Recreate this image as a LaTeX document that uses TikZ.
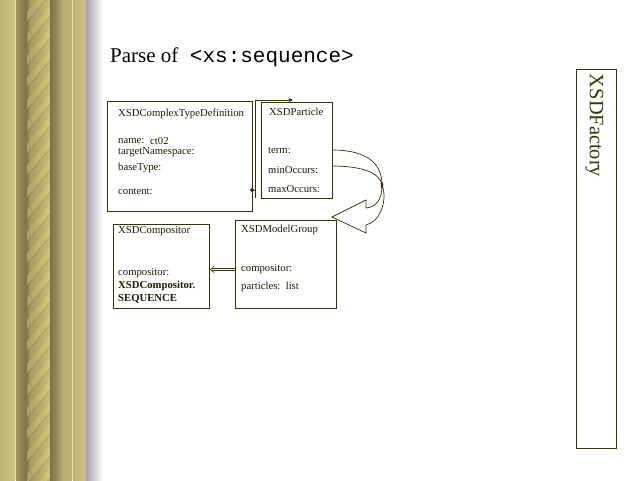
\documentclass[tikz,border=0pt]{standalone}
\usepackage{fontspec}
\setmainfont{Liberation Serif}
\setmonofont{Liberation Mono}
\usetikzlibrary{arrows.meta}

\definecolor{boxline}{HTML}{3A3100}
\definecolor{boxtext}{HTML}{1E1A04}
\definecolor{factorytext}{HTML}{383508}
\definecolor{khaki}{HTML}{BDB374}
\definecolor{khakilight}{HTML}{CCC282}
\definecolor{olivedark}{HTML}{7E7547}
\definecolor{olivemid}{HTML}{978D57}
\definecolor{glint}{HTML}{EADF94}
\definecolor{ropebase}{HTML}{A69C62}
\definecolor{ropehi}{HTML}{D6CA7E}

\tikzset{
  umlbox/.style={draw=boxline, line width=0.9pt, inner sep=0pt},
  lbl/.style={text=boxtext, inner sep=0pt, anchor=base west,
              font=\fontsize{10.7}{12}\selectfont},
  lblbold/.style={lbl, font=\fontsize{10.7}{12}\selectfont\bfseries},
  wire/.style={draw=boxline, line width=0.7pt},
}

\begin{document}
\begin{tikzpicture}[x=1pt,y=-1pt]
\useasboundingbox (0,0) rectangle (640,480);
\fill[white] (0,0) rectangle (640,480);

% ---- decorative gilded column on the left ----
\shade[left color=khaki, right color=khakilight] (0,0) rectangle (15,480);
\fill[glint] (15,0) rectangle (16,480);
\shade[left color=olivemid!80!khaki, right color=olivedark] (16,0) rectangle (26,480);
\shade[left color=olivedark, right color=ropebase] (26,0) rectangle (30,480);
\shade[left color=ropebase, right color=ropehi!70!ropebase] (30,0) rectangle (50,480);
\begin{scope}
  \clip (27,0) rectangle (50,480);
  \foreach \y in {-60,-38,...,520}{
    \shade[left color=ropebase!80!ropehi, right color=ropehi, opacity=0.85]
      (27,\y+28) -- (50,\y) -- (50,\y+9) -- (27,\y+37) -- cycle;
    \fill[olivedark, opacity=0.15]
      (27,\y+37) -- (50,\y+9) -- (50,\y+12) -- (27,\y+40) -- cycle;
  }
\end{scope}
\shade[left color=olivemid!80!black, right color=olivemid] (50,0) rectangle (57,480);
\shade[left color=olivemid, right color=khaki!90!olivemid] (57,0) rectangle (63,480);
\shade[left color=khaki!90!olivemid, right color=khaki] (63,0) rectangle (72,480);
\fill[glint] (72,0) rectangle (73,480);
\shade[left color=khaki, right color=khakilight] (73,0) rectangle (86,480);
\shade[left color={rgb,255:red,164;green,161;blue,174}, right color=white]
  (86,0) rectangle (103,480);

% ---- title ----
\node[anchor=base west, inner sep=0pt, font=\fontsize{21}{24}\selectfont] (title)
  at (110,62) {Parse of\hspace{0.55em}\texttt{<xs:sequence>}};

% ---- XSDComplexTypeDefinition ----
\node[umlbox, anchor=north west, minimum width=145pt, minimum height=110pt] (ctd) at (107,101) {};
\node[lbl] (ctdT) at (118,116) {XSDComplexTypeDefinition};
\node[lbl] (ctdName) at (118,143) {name:};
\node[lbl] (ctdNameV) at (150,144.5) {ct02};
\node[lbl] (ctdNs) at (118,154.5) {targetNamespace:};
\node[lbl] (ctdBase) at (118,170) {baseType:};
\node[lbl] (ctdContent) at (118,194) {content:};

% ---- XSDParticle ----
\node[umlbox, anchor=north west, minimum width=71pt, minimum height=96pt] (part) at (261,102) {};
\node[lbl] (partT) at (269,115) {XSDParticle};
\node[lbl] (partTerm) at (268,153) {term:};
\node[lbl] (partMin) at (268,173) {minOccurs:};
\node[lbl] (partMax) at (268,192) {maxOccurs:};

% ---- XSDCompositor ----
\node[umlbox, anchor=north west, minimum width=96pt, minimum height=84pt] (comp) at (113,224) {};
\node[lbl] (compT) at (118,233) {XSDCompositor};
\node[lbl] (compC) at (118,275) {compositor:};
\node[lblbold] (compV1) at (118,288) {XSDCompositor.};
\node[lblbold] (compV2) at (118,301) {SEQUENCE};

% ---- XSDModelGroup ----
\node[umlbox, anchor=north west, minimum width=101pt, minimum height=88pt] (mg) at (235,220) {};
\node[lbl] (mgT) at (241,232) {XSDModelGroup};
\node[lbl] (mgC) at (241,271.5) {compositor:};
\node[lbl] (mgP) at (241,289) {particles:\ \ list};

% ---- XSDFactory ----
\node[draw=boxline, line width=0.9pt, anchor=north west, minimum width=40pt,
      minimum height=379pt, inner sep=0pt] (fac) at (576,69) {};
\node[rotate=-90, inner sep=0pt, text=factorytext,
      font=\fontsize{20.4}{24}\selectfont] (facT) at (594.5,125.5) {XSDFactory};

% ---- content -> XSDParticle ----
\coordinate (cDot) at (250,190);
\coordinate (rail) at (255,198);
\coordinate (cEnd) at (293,100);
\draw[wire, {Circle[length=4.2pt,width=4.2pt]}-] (cDot) -- (cDot -| rail);
\draw[wire, -{Triangle[length=4pt,width=3.5pt]}] (rail) |- (cEnd);

% ---- term / minOccurs -> XSDModelGroup (block arrow) ----
\coordinate (termOut) at (332,150);
\coordinate (minOut) at (332,166);
\coordinate (join) at (382,185);
\coordinate (tip) at (332,217);
\draw[wire] (termOut) .. controls (362,150) and (382,160) .. (join);
\draw[wire] (minOut) .. controls (360,166) and (380,172) .. (join);
\fill[boxline] (join) ellipse (1.3pt and 3pt);
\draw[wire, line join=miter]
  (join) .. controls (382,200) and (376,207) .. (366,208)
  -- (366,200) -- (tip) -- (366,233) -- (366,225)
  .. controls (380,222) and (388,200) .. (join);

% ---- XSDModelGroup.compositor -> XSDCompositor ----
\coordinate (mgOut) at (235,269.5);
\coordinate (compIn) at (209.5,269.5);
\draw[draw=boxline, line width=0.6pt, double, double distance=1.8pt,
      -{Implies}] (mgOut) -- (compIn);
\end{tikzpicture}
\end{document}
